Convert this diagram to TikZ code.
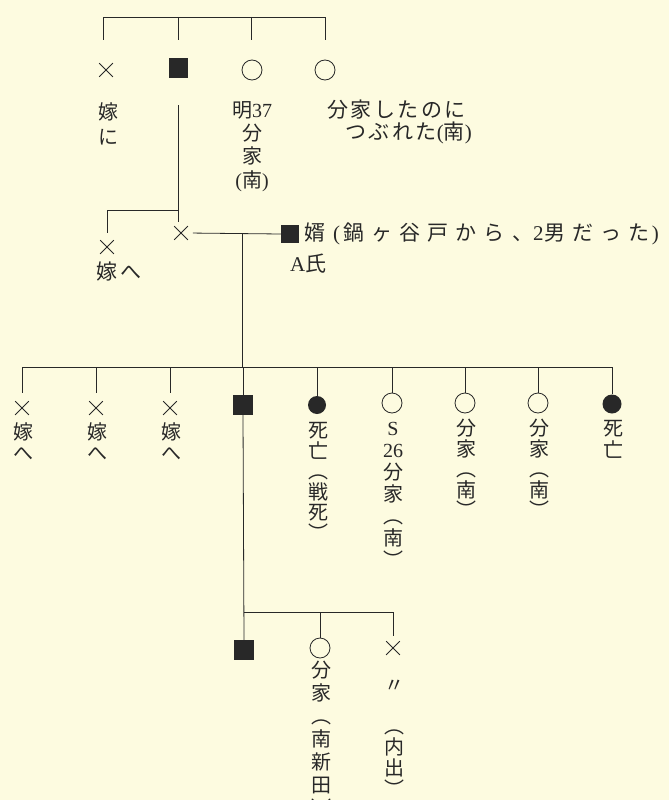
\documentclass[tikz,border=0pt]{standalone}
\usepackage{fontspec}
\setmainfont{Liberation Serif}
\newfontfamily\cjk{Noto Sans CJK JP}
\newfontfamily\cjkh{Noto Sans CJK JP}[LetterSpace=12]
\newfontfamily\cjkw{Noto Sans CJK JP}[LetterSpace=34]
\usetikzlibrary{shapes.misc}
\definecolor{bg}{RGB}{253,251,224}
\definecolor{ink}{RGB}{40,40,40}
\tikzset{
  ln/.style={draw=ink, line width=0.8pt},
  sq/.style={fill=ink, minimum size=19pt, inner sep=0pt},
  ci/.style={draw=ink, circle, minimum size=20pt, inner sep=0pt, line width=0.8pt},
  dot/.style={fill=ink, circle, minimum size=18pt, inner sep=0pt},
  xx/.style={draw=ink, cross out, minimum size=13pt, inner sep=0pt, line width=0.75pt},
  tx/.style={font=\cjk\fontsize{20}{20}\selectfont, text=ink, inner sep=0pt,
             text height=15.2pt, text depth=0pt},
  th/.style={font=\cjkh\fontsize{21}{21}\selectfont, text=ink, inner sep=0pt},
  tw/.style={font=\cjkw\fontsize{21}{21}\selectfont, text=ink, inner sep=0pt}
}
\newcommand\vcolumn[5]{%
  \foreach \c [count=\i] in {#5} {\node[tx] (#1\i) at (#2,{#3+#4*(\i-1)}) {\c};}%
}
\begin{document}
\begin{tikzpicture}[x=1pt,y=-1pt]
\useasboundingbox (0,0) rectangle (669,800);
\fill[bg] (0,0) rectangle (669,800);
\clip (0,0) rectangle (669,800);

% ---------- generation 1
\coordinate (b1a) at (103,17); \coordinate (b1b) at (178,17);
\coordinate (b1c) at (251,17); \coordinate (b1d) at (325,17);
\coordinate (k1a) at (103,40); \coordinate (k1b) at (178,40);
\coordinate (k1c) at (251,40); \coordinate (k1d) at (325,40);
\draw[ln] (k1a) -- (b1a) -- (b1d) -- (k1d);
\draw[ln] (b1b) -- (k1b);
\draw[ln] (b1c) -- (k1c);

\node[xx] (g1x) at (106,70) {};
\node[sq] (g1s) at (178,68) {};
\node[ci] (g1c1) at (252,70) {};
\node[ci] (g1c2) at (325,70) {};

\node[tx] (t1a) at (108,112) {嫁};
\node[tx] (t1b) at (108,137) {に};
\node[tx] (t2a) at (252,110) {明{\rmfamily 37}};
\node[tx] (t2b) at (252,133) {分};
\node[tx] (t2c) at (252,156) {家};
\node[tx] (t2d) at (252,180) {{\rmfamily (}南{\rmfamily )}};
\node[th, anchor=west] (t6a) at (327,110) {分家したのに};
\node[th, anchor=east] (t6b) at (472,133) {つぶれた{\rmfamily (}南{\rmfamily )}};

% ---------- generation 2
\coordinate (v1a) at (178,105); \coordinate (v1b) at (178,210);
\coordinate (v1c) at (178,222); \coordinate (v1d) at (107,210);
\coordinate (v1e) at (107,233);
\draw[ln] (v1a) -- (v1c);
\draw[ln] (v1b) -- (v1d) -- (v1e);

\node[xx] (g2x1) at (107,247) {};
\node[th] (t3) at (119,272) {嫁へ};
\node[xx] (g2x2) at (181,233) {};
\node[sq, minimum size=18pt] (g2s) at (290,234) {};
\draw[ln, shorten <=5pt] (g2x2.east) -- (g2s.west);
\node[tw, anchor=west] (t4) at (304,234) {婿\hspace{8pt}{\rmfamily (}\hspace{3pt}鍋ヶ谷戸から、{\rmfamily 2}\hspace{1pt}男だった\hspace{2pt}{\rmfamily )}};
\node[th, anchor=west] (t5) at (290,264) {{\rmfamily A}氏};

\coordinate (m2) at (242,233); \coordinate (m3) at (242,367);
\draw[ln] (m2) -- (m3);

% ---------- generation 3
\foreach \x [count=\i] in {22,96,170,243,317,392,465,538,612} {
  \coordinate (g3t\i) at (\x,367);
}
\draw[ln] (g3t1) -- (g3t9);
\node[xx] (g3x1) at (22,408) {};
\node[xx] (g3x2) at (96,408) {};
\node[xx] (g3x3) at (170,408) {};
\node[sq, minimum size=20pt] (g3s) at (243,405) {};
\node[dot] (g3d1) at (317,405) {};
\node[ci] (g3c1) at (392,403) {};
\node[ci] (g3c2) at (465,403) {};
\node[ci] (g3c3) at (538,403) {};
\node[dot, minimum size=19pt] (g3d2) at (612,404) {};
\draw[ln] (g3t1) -- ++(0,26);
\draw[ln] (g3t2) -- ++(0,26);
\draw[ln] (g3t3) -- ++(0,26);
\draw[ln] (g3t4) -- (g3s.north);
\draw[ln] (g3t5) -- (g3d1.north);
\draw[ln] (g3t6) -- (g3c1.north);
\draw[ln] (g3t7) -- (g3c2.north);
\draw[ln] (g3t8) -- (g3c3.north);
\draw[ln] (g3t9) -- (g3d2.north);

\vcolumn{a1}{23}{432}{21}{嫁,へ}
\vcolumn{a2}{97}{432}{21}{嫁,へ}
\vcolumn{a3}{171}{432}{21}{嫁,へ}
\vcolumn{a5}{318}{430}{20.5}{死,亡,︵,戦,死,︶}
\vcolumn{a6}{393}{428}{22}{{\rmfamily S},{\rmfamily 26},分,家,︵,南,︶}
\vcolumn{a7}{466}{428}{20.5}{分,家,︵,南,︶}
\vcolumn{a8}{539}{428}{20.5}{分,家,︵,南,︶}
\vcolumn{a9}{613}{428}{22}{死,亡}

% ---------- generation 4
\node[sq, minimum size=20pt] (g4s) at (244,650) {};
\node[ci] (g4c) at (320,648) {};
\node[xx] (g4x) at (393,648) {};
\draw[ln] (g3s.south) -- (g4s.north);
\coordinate (b4a) at (244,612); \coordinate (b4b) at (320,612);
\coordinate (b4c) at (393,612); \coordinate (k4c) at (393,636);
\draw[ln] (b4a) -- (b4c) -- (k4c);
\draw[ln] (b4b) -- (g4c.north);

\vcolumn{b2}{321}{670}{23}{分,家,︵,南,新,田,︶}
\node[tx] (b3a) at (394,685) {〃};
\vcolumn{b3}{394}{726}{21}{︵,内,出,︶}
\end{tikzpicture}
\end{document}
